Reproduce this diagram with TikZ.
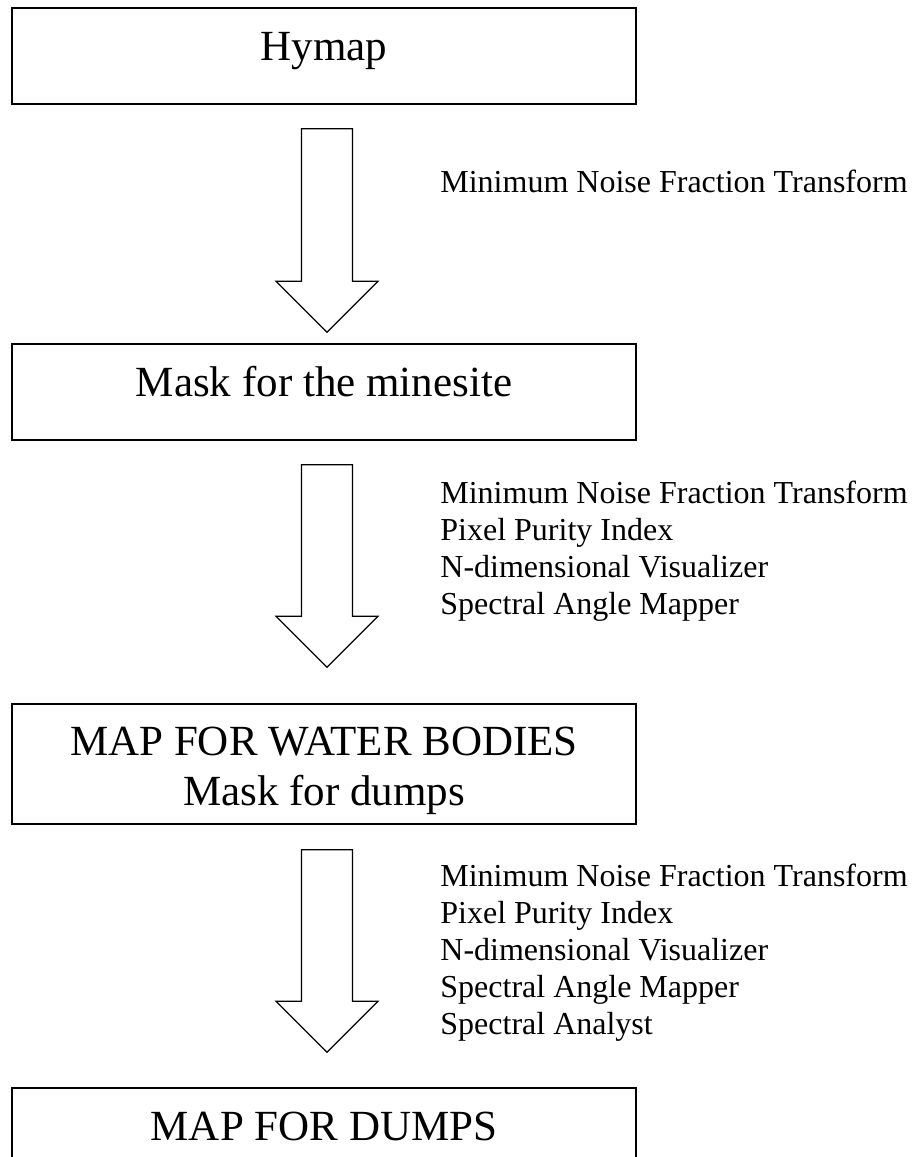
\documentclass[tikz,border=0pt]{standalone}
\usepackage{fontspec}
\setmainfont{Liberation Serif}
\usetikzlibrary{calc}

\tikzset{
  stage/.style={draw=black,line width=0.75pt,minimum width=312pt,inner sep=0pt,
    text height=26pt,text depth=22pt,align=center,anchor=base,
    font=\fontsize{21.5}{25}\selectfont},
  steps/.style={anchor=base west,align=left,inner sep=0pt,
    font=\fontsize{16}{18.5}\selectfont},
  blockarrow/.style={line width=0.6pt,to path={
    ($(\tikztostart)+(-12.75pt,0pt)$) -- ($(\tikztotarget)+(-12.75pt,25.5pt)$)
    -- ++(-12.75pt,0pt) -- (\tikztotarget) -- ++(25.5pt,25.5pt)
    -- ++(-12.75pt,0pt) -- ($(\tikztostart)+(12.75pt,0pt)$) -- cycle}}
}

\begin{document}
\begin{tikzpicture}[x=0.5pt,y=-0.5pt]
    \useasboundingbox (0,0) rectangle (912,1157);
    \clip (0,0) rectangle (912,1157);
    \node[stage] (hymap) at (324,60) {Hymap};
     \node[stage] (mask) at (324,396) {Mask for the minesite};
      % base of a two-line node is its last line
      \node[stage,text height=50.5pt,text depth=9.5pt] (water) at (324,805) {MAP FOR WATER BODIES\\ Mask for dumps};
       \node[stage] (dumps) at (324,1140) {MAP FOR DUMPS};
    \node[steps] (t1) at (440,192) {Minimum Noise Fraction Transform};
    \node[steps] (t2) at (440,614) {Minimum Noise Fraction Transform\\ Pixel Purity Index\\ N-dimensional Visualizer\\ Spectral Angle Mapper};
    \node[steps] (t3) at (440,1034) {Minimum Noise Fraction Transform\\ Pixel Purity Index\\ N-dimensional Visualizer\\ Spectral Angle Mapper\\ Spectral Analyst};
    \draw[blockarrow] ($(hymap.south)+(3,24)$) to ($(mask.north)+(3,-11)$);
    \draw[blockarrow] ($(mask.south)+(3,24)$) to ($(water.north)+(3,-36)$);
    \draw[blockarrow] ($(water.south)+(3,25)$) to ($(dumps.north)+(3,-35)$);
\end{tikzpicture}
\end{document}
